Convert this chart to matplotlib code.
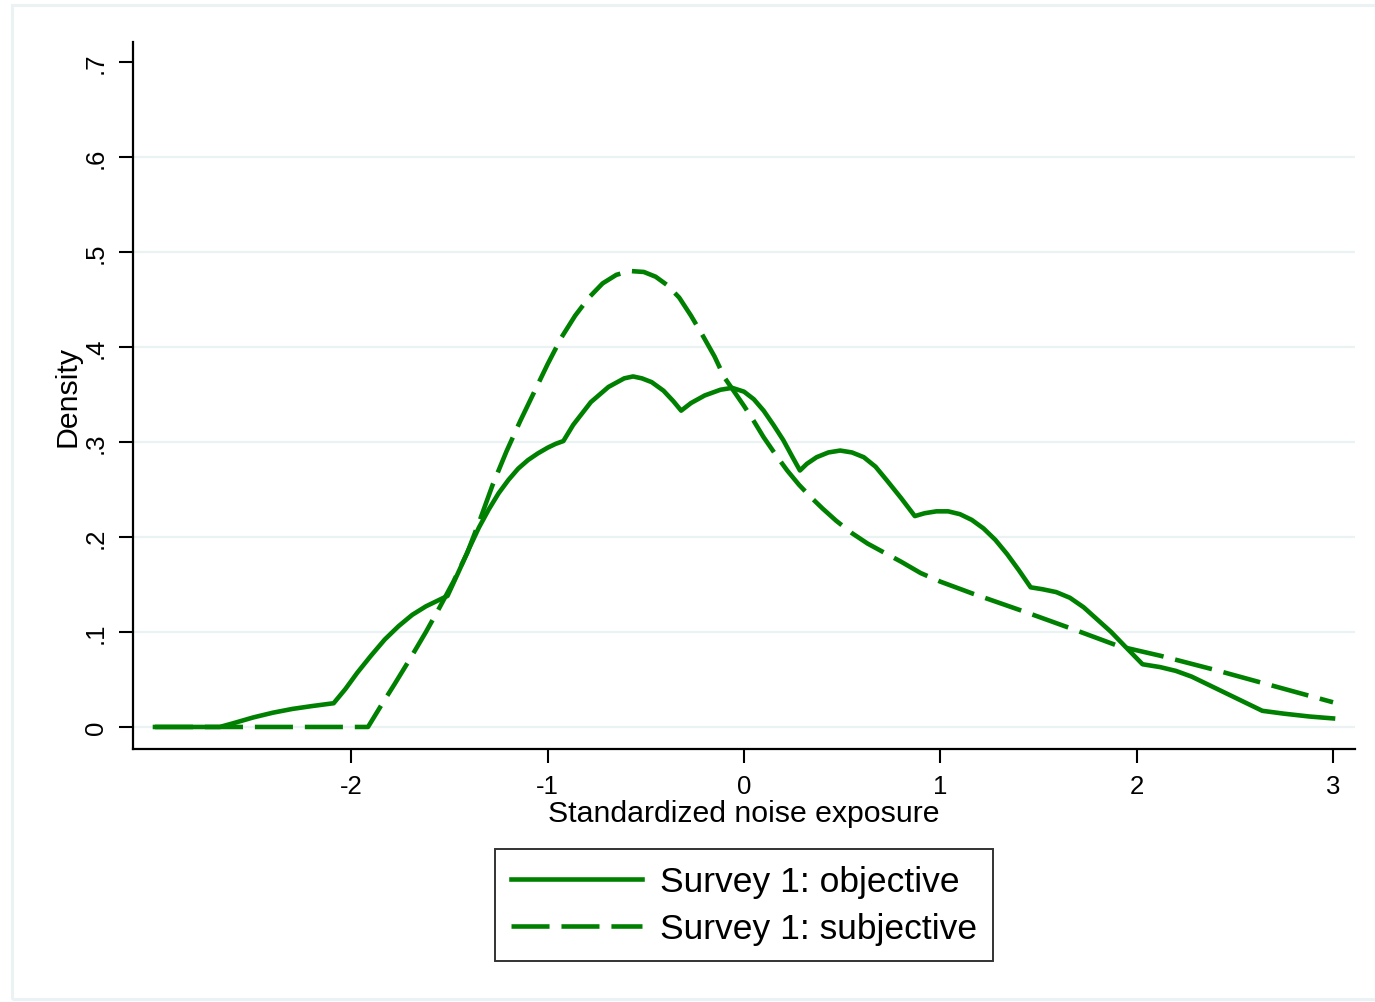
import matplotlib
matplotlib.use("Agg")
import matplotlib.pyplot as plt
from matplotlib.patches import Rectangle

plt.rcParams['font.family'] = ['Liberation Sans', 'DejaVu Sans']

# ---- data ----
obj_x = [-3.0, -2.67, -2.6, -2.5, -2.4, -2.3, -2.2, -2.09, -2.03, -1.97, -1.9, -1.83,
         -1.76, -1.69, -1.62, -1.56, -1.51, -1.45, -1.40, -1.35, -1.30, -1.25, -1.2,
         -1.15, -1.1, -1.05, -1.0, -0.96, -0.92, -0.87, -0.78, -0.69, -0.61, -0.565,
         -0.52, -0.47, -0.41, -0.36, -0.32, -0.27, -0.2, -0.12, -0.06, 0.0, 0.05, 0.1,
         0.15, 0.2, 0.25, 0.285, 0.32, 0.37, 0.43, 0.49, 0.55, 0.61, 0.67, 0.73, 0.8,
         0.87, 0.92, 0.98, 1.04, 1.1, 1.16, 1.22, 1.28, 1.34, 1.40, 1.46, 1.52, 1.59,
         1.66, 1.73, 1.80, 1.87, 1.94, 2.03, 2.12, 2.2, 2.28, 2.36, 2.45, 2.55, 2.64,
         2.75, 2.88, 3.0]
obj_y = [0.0, 0.0, 0.004, 0.01, 0.015, 0.019, 0.022, 0.025, 0.04, 0.057, 0.075, 0.092,
         0.106, 0.118, 0.127, 0.133, 0.138, 0.165, 0.188, 0.21, 0.229, 0.246, 0.26,
         0.272, 0.281, 0.288, 0.294, 0.298, 0.301, 0.318, 0.342, 0.358, 0.367, 0.369,
         0.367, 0.363, 0.354, 0.343, 0.333, 0.341, 0.349, 0.355, 0.357, 0.353, 0.345,
         0.333, 0.318, 0.302, 0.283, 0.27, 0.277, 0.284, 0.289, 0.291, 0.289, 0.284,
         0.274, 0.259, 0.241, 0.222, 0.225, 0.227, 0.227, 0.224, 0.218, 0.209, 0.197,
         0.182, 0.165, 0.147, 0.145, 0.142, 0.136, 0.126, 0.113, 0.1, 0.085, 0.066,
         0.063, 0.059, 0.053, 0.045, 0.036, 0.026, 0.017, 0.014, 0.011, 0.009]

subj_x = [-3.0, -1.915, -1.85, -1.78, -1.7, -1.62, -1.55, -1.48, -1.41, -1.345, -1.28,
          -1.21, -1.14, -1.07, -1.0, -0.93, -0.86, -0.79, -0.72, -0.65, -0.58, -0.51,
          -0.45, -0.39, -0.33, -0.27, -0.21, -0.15, -0.1, -0.05, 0.0, 0.05, 0.1, 0.16,
          0.22, 0.28, 0.34, 0.4, 0.47, 0.55, 0.63, 0.71, 0.8, 0.9, 1.0, 1.17, 1.42,
          1.675, 1.91, 2.12, 2.4, 2.7, 3.0]
subj_y = [0.0, 0.0, 0.022, 0.045, 0.072, 0.1, 0.126, 0.153, 0.183, 0.218, 0.255,
          0.29, 0.322, 0.352, 0.382, 0.41, 0.433, 0.452, 0.467, 0.476, 0.48, 0.479,
          0.474, 0.465, 0.452, 0.433, 0.412, 0.39, 0.368, 0.353, 0.338, 0.322, 0.305,
          0.287, 0.27, 0.255, 0.242, 0.23, 0.217, 0.204, 0.193, 0.184, 0.174, 0.162,
          0.153, 0.14, 0.122, 0.103, 0.085, 0.075, 0.06, 0.043, 0.026]

series_labels = ["Survey 1: objective", "Survey 1: subjective"]
x_ticks = [-2, -1, 0, 1, 2, 3]
x_tick_labels = ["-2", "-1", "0", "1", "2", "3"]
y_ticks = [0, 0.1, 0.2, 0.3, 0.4, 0.5, 0.6, 0.7]
y_tick_labels = ["0", ".1", ".2", ".3", ".4", ".5", ".6", ".7"]
grid_values = [0, 0.1, 0.2, 0.3, 0.4, 0.5, 0.6]

GREEN = "#008000"
GRID = "#EAF2F3"

W, H = 1375, 1003
fig = plt.figure(figsize=(W / 100, H / 100), dpi=100)
fig.patch.set_facecolor("white")

# outer light frame
fig.patches.append(Rectangle((12 / W, 1 - 1000 / H), (1390 - 12) / W, (1000 - 6) / H,
                             transform=fig.transFigure, fill=False,
                             edgecolor=GRID, linewidth=2.2, zorder=0))

L, R, T, B = 133, 1355, 43, 750
ax = fig.add_axes([L / W, 1 - B / H, (R - L) / W, (B - T) / H])
ax.set_facecolor("white")

for gv in grid_values:
    ax.axhline(gv, color=GRID, linewidth=1.6, zorder=0)

ax.plot(obj_x, obj_y, color=GREEN, linewidth=3.3, solid_joinstyle="round",
        label=series_labels[0], zorder=3)
ax.plot(subj_x, subj_y, color=GREEN, linewidth=3.3, dashes=(8.3, 2.6),
        dash_joinstyle="round", label=series_labels[1], zorder=3)

ax.set_xlim(-3.112, 3.112)
ax.set_ylim(-0.0232, 0.7211)

ax.set_xticks(x_ticks)
ax.set_xticklabels(x_tick_labels, fontsize=18.5)
ax.set_yticks(y_ticks)
ax.set_yticklabels(y_tick_labels, fontsize=18.5, rotation=90, va="center")
ax.tick_params(axis="both", direction="out", length=10, width=1.5, color="black")
ax.tick_params(axis="x", pad=8)
ax.tick_params(axis="y", pad=8)

for s in ["top", "right"]:
    ax.spines[s].set_visible(False)
for s in ["left", "bottom"]:
    ax.spines[s].set_linewidth(1.6)
    ax.spines[s].set_color("black")

ax.set_xlabel("Standardized noise exposure", fontsize=21.8)
ax.xaxis.label.set_va("center")
ax.xaxis.set_label_coords(0.5, (B - 814) / (B - T))
ax.set_ylabel("Density", fontsize=21.8)
ax.yaxis.label.set_va("center")
ax.yaxis.set_label_coords((68 - L) / (R - L), 0.5)

leg = fig.legend(loc="upper center", bbox_to_anchor=(744 / W, 1 - 850 / H),
                 fontsize=25.5, frameon=True, fancybox=False, edgecolor="black",
                 handlelength=3.7, handletextpad=0.5, labelspacing=0.4,
                 borderpad=0.45, borderaxespad=0)
leg.get_frame().set_linewidth(1.4)

fig.savefig("out.png", dpi=100, facecolor="white")
